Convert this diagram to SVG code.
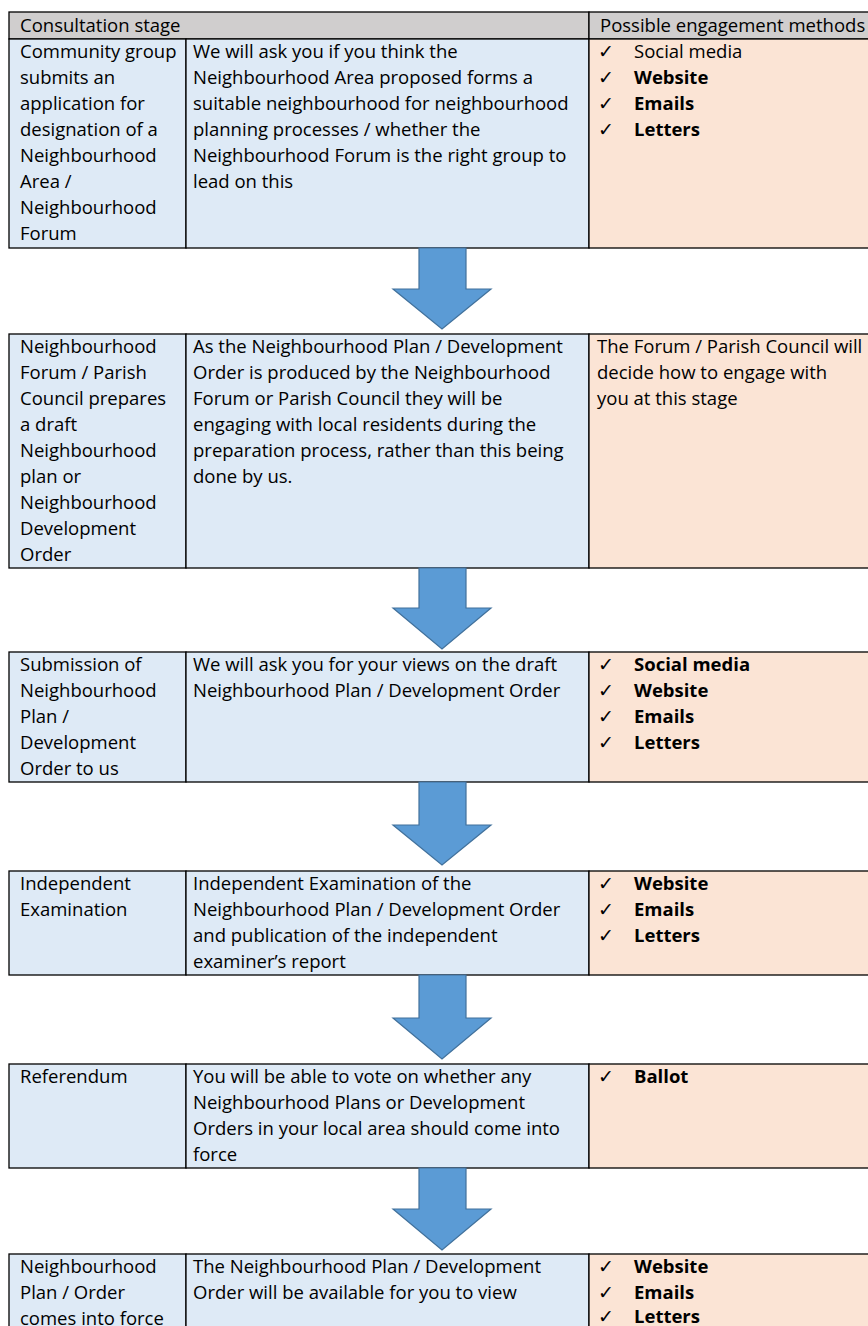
<svg xmlns="http://www.w3.org/2000/svg" width="868" height="1326" viewBox="0 0 868 1326">
<style>
.hd{fill:#D0CECE;stroke:#000;stroke-width:1.3}
.bl{fill:#DEEAF6;stroke:#000;stroke-width:1.3}
.or{fill:#FBE4D5;stroke:#000;stroke-width:1.3}
text{font-family:"Open Sans","Liberation Sans",sans-serif;font-size:18.5px;fill:#000}
.b{font-weight:bold}
.ck{font-family:"DejaVu Sans",sans-serif;font-size:19px}
.arr{fill:#5B9BD5;stroke:#41719C;stroke-width:1.2}
</style>
<rect width="868" height="1326" fill="#fff"/>

<g id="header">
<rect class="hd" x="9" y="12" width="580" height="27"/>
<rect class="hd" x="589" y="12" width="290" height="27"/>
<text x="20" y="32">Consultation stage</text>
<text x="600" y="32">Possible engagement methods</text>
</g>

<g id="row1">
<rect class="bl" x="9" y="39" width="177" height="209"/>
<rect class="bl" x="186" y="39" width="403" height="209"/>
<rect class="or" x="589" y="39" width="290" height="209"/>
<text x="20" y="58"><tspan x="20">Community group</tspan><tspan x="20" dy="26">submits an</tspan><tspan x="20" dy="26">application for</tspan><tspan x="20" dy="26">designation of a</tspan><tspan x="20" dy="26">Neighbourhood</tspan><tspan x="20" dy="26">Area /</tspan><tspan x="20" dy="26">Neighbourhood</tspan><tspan x="20" dy="26">Forum</tspan></text>
<text x="193" y="58"><tspan x="193">We will ask you if you think the</tspan><tspan x="193" dy="26">Neighbourhood Area proposed forms a</tspan><tspan x="193" dy="26">suitable neighbourhood for neighbourhood</tspan><tspan x="193" dy="26">planning processes / whether the</tspan><tspan x="193" dy="26">Neighbourhood Forum is the right group to</tspan><tspan x="193" dy="26">lead on this</tspan></text>
<text class="ck" x="598" y="58">✓</text><text x="634" y="58">Social media</text>
<text class="ck" x="598" y="84">✓</text><text class="b" x="634" y="84">Website</text>
<text class="ck" x="598" y="110">✓</text><text class="b" x="634" y="110">Emails</text>
<text class="ck" x="598" y="136">✓</text><text class="b" x="634" y="136">Letters</text>
</g>

<g id="row2">
<rect class="bl" x="9" y="334" width="177" height="234"/>
<rect class="bl" x="186" y="334" width="403" height="234"/>
<rect class="or" x="589" y="334" width="290" height="234"/>
<text x="20" y="353"><tspan x="20">Neighbourhood</tspan><tspan x="20" dy="26">Forum / Parish</tspan><tspan x="20" dy="26">Council prepares</tspan><tspan x="20" dy="26">a draft</tspan><tspan x="20" dy="26">Neighbourhood</tspan><tspan x="20" dy="26">plan or</tspan><tspan x="20" dy="26">Neighbourhood</tspan><tspan x="20" dy="26">Development</tspan><tspan x="20" dy="26">Order</tspan></text>
<text x="193" y="353"><tspan x="193">As the Neighbourhood Plan / Development</tspan><tspan x="193" dy="26">Order is produced by the Neighbourhood</tspan><tspan x="193" dy="26">Forum or Parish Council they will be</tspan><tspan x="193" dy="26">engaging with local residents during the</tspan><tspan x="193" dy="26">preparation process, rather than this being</tspan><tspan x="193" dy="26">done by us.</tspan></text>
<text x="597" y="353"><tspan x="597">The Forum / Parish Council will</tspan><tspan x="597" dy="26">decide how to engage with</tspan><tspan x="597" dy="26">you at this stage</tspan></text>
</g>

<g id="row3">
<rect class="bl" x="9" y="652" width="177" height="130"/>
<rect class="bl" x="186" y="652" width="403" height="130"/>
<rect class="or" x="589" y="652" width="290" height="130"/>
<text x="20" y="671"><tspan x="20">Submission of</tspan><tspan x="20" dy="26">Neighbourhood</tspan><tspan x="20" dy="26">Plan /</tspan><tspan x="20" dy="26">Development</tspan><tspan x="20" dy="26">Order to us</tspan></text>
<text x="193" y="671"><tspan x="193">We will ask you for your views on the draft</tspan><tspan x="193" dy="26">Neighbourhood Plan / Development Order</tspan></text>
<text class="ck" x="598" y="671">✓</text><text class="b" x="634" y="671">Social media</text>
<text class="ck" x="598" y="697">✓</text><text class="b" x="634" y="697">Website</text>
<text class="ck" x="598" y="723">✓</text><text class="b" x="634" y="723">Emails</text>
<text class="ck" x="598" y="749">✓</text><text class="b" x="634" y="749">Letters</text>
</g>

<g id="row4">
<rect class="bl" x="9" y="871" width="177" height="104"/>
<rect class="bl" x="186" y="871" width="403" height="104"/>
<rect class="or" x="589" y="871" width="290" height="104"/>
<text x="20" y="890"><tspan x="20">Independent</tspan><tspan x="20" dy="26">Examination</tspan></text>
<text x="193" y="890"><tspan x="193">Independent Examination of the</tspan><tspan x="193" dy="26">Neighbourhood Plan / Development Order</tspan><tspan x="193" dy="26">and publication of the independent</tspan><tspan x="193" dy="26">examiner’s report</tspan></text>
<text class="ck" x="598" y="890">✓</text><text class="b" x="634" y="890">Website</text>
<text class="ck" x="598" y="916">✓</text><text class="b" x="634" y="916">Emails</text>
<text class="ck" x="598" y="942">✓</text><text class="b" x="634" y="942">Letters</text>
</g>

<g id="row5">
<rect class="bl" x="9" y="1064" width="177" height="104"/>
<rect class="bl" x="186" y="1064" width="403" height="104"/>
<rect class="or" x="589" y="1064" width="290" height="104"/>
<text x="20" y="1083">Referendum</text>
<text x="193" y="1083"><tspan x="193">You will be able to vote on whether any</tspan><tspan x="193" dy="26">Neighbourhood Plans or Development</tspan><tspan x="193" dy="26">Orders in your local area should come into</tspan><tspan x="193" dy="26">force</tspan></text>
<text class="ck" x="598" y="1083">✓</text><text class="b" x="634" y="1083">Ballot</text>
</g>

<g id="row6">
<rect class="bl" x="9" y="1254" width="177" height="90"/>
<rect class="bl" x="186" y="1254" width="403" height="90"/>
<rect class="or" x="589" y="1254" width="290" height="90"/>
<text x="20" y="1273"><tspan x="20">Neighbourhood</tspan><tspan x="20" dy="26">Plan / Order</tspan><tspan x="20" dy="26">comes into force</tspan></text>
<text x="193" y="1273"><tspan x="193">The Neighbourhood Plan / Development</tspan><tspan x="193" dy="26">Order will be available for you to view</tspan></text>
<text class="ck" x="598" y="1273">✓</text><text class="b" x="634" y="1273">Website</text>
<text class="ck" x="598" y="1299">✓</text><text class="b" x="634" y="1299">Emails</text>
<text class="ck" x="598" y="1323">✓</text><text class="b" x="634" y="1323">Letters</text>
</g>

<g id="connectors">
<polygon class="arr" points="419,248 466,248 466,289 491,289 442,329 393,289 419,289"/>
<polygon class="arr" points="419,568 466,568 466,608 491,608 442,649 393,608 419,608"/>
<polygon class="arr" points="419,782 466,782 466,825 491,825 442,865 393,825 419,825"/>
<polygon class="arr" points="419,975 466,975 466,1018 491,1018 442,1059 393,1018 419,1018"/>
<polygon class="arr" points="419,1168 466,1168 466,1209 491,1209 442,1250 393,1209 419,1209"/>
</g>
</svg>
